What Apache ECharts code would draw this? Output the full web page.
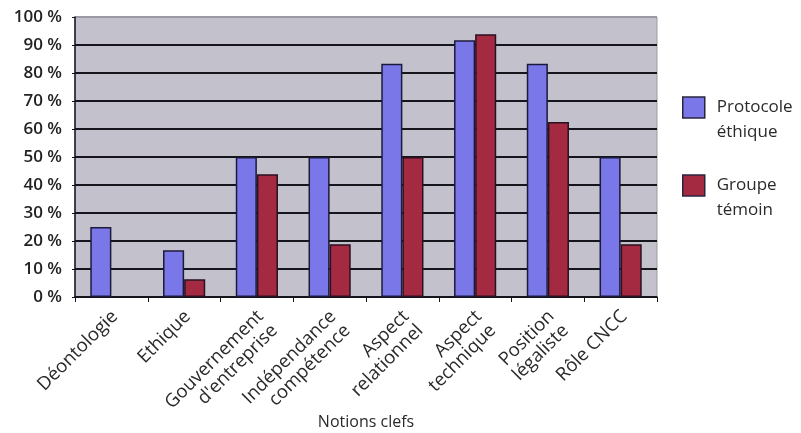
<!DOCTYPE html>
<html>
<head>
<meta charset="utf-8">
<script src="https://cdn.jsdelivr.net/npm/echarts@6/dist/echarts.min.js"></script>
<style>
  html, body { margin: 0; padding: 0; background: #fff; }
  #chart { width: 801px; height: 433px; }
</style>
</head>
<body>
<div id="chart"></div>
<script>
// Notions clefs, share of respondents citing each notion (%)
const categories = [
  'Déontologie',
  'Ethique',
  'Gouvernement\nd\'entreprise',
  'Indépendance\ncompétence',
  'Aspect\nrelationnel',
  'Aspect\ntechnique',
  'Position\nlégaliste',
  'Rôle CNCC'
];
const protocoleEthique = [25, 16.7, 50, 50, 83.3, 91.7, 83.3, 50];
const groupeTemoin = [0, 6.3, 43.8, 18.8, 50, 93.8, 62.5, 18.8];
const yTicks = [0, 10, 20, 30, 40, 50, 60, 70, 80, 90, 100];
const seriesNames = ['Protocole éthique', 'Groupe témoin'];

const FONT = '"Open Sans", sans-serif';
const chart = echarts.init(document.getElementById('chart'), null, { renderer: 'canvas' });

// one colour per gridline; the top one blends into the plot frame
const gridColors = yTicks.map((t, i) => (i === yTicks.length - 1 ? '#9a9aa4' : '#15151c'));

// zero-height bars get no outline
const toBarData = values => values.map(v => (v === 0 ? { value: v, itemStyle: { borderWidth: 0 } } : v));

chart.setOption({
  backgroundColor: '#ffffff',
  animation: false,
  grid: {
    left: 75, right: 144, top: 17, bottom: 136,
    outerBoundsMode: 'none',
    containLabel: false,
    show: true,
    backgroundColor: '#c3c2cc',
    borderColor: '#9a9aa4',
    borderWidth: 1
  },
  legend: {
    orient: 'vertical',
    left: 682,
    top: 70,
    padding: 0,
    itemWidth: 22,
    itemHeight: 21,
    itemGap: 3,
    icon: 'rect',
    data: seriesNames,
    // leading blank line keeps the swatch level with the first word
    formatter: name => '\n' + name.replace(' ', '\n'),
    textStyle: {
      fontFamily: FONT,
      fontSize: 17,
      color: '#2a2a2a',
      lineHeight: 25,
      padding: [0, 0, 0, 7]
    },
    itemStyle: { borderColor: '#2a2440', borderWidth: 1.5 }
  },
  xAxis: {
    type: 'category',
    data: categories,
    name: 'Notions clefs',
    nameLocation: 'middle',
    nameGap: 117,
    nameMoveOverlap: false,
    nameTextStyle: { fontFamily: FONT, fontSize: 16, color: '#2a2a2a' },
    axisLine: { lineStyle: { color: '#15151c', width: 1.5 } },
    axisTick: { show: true, length: 5, alignWithLabel: false, lineStyle: { color: '#15151c' } },
    axisLabel: {
      rotate: 45,
      interval: 0,
      margin: 6,
      align: 'right',
      verticalAlign: 'top',
      padding: [0, 5, 0, 0],
      fontFamily: FONT,
      fontSize: 18.5,
      lineHeight: 20,
      color: '#2a2a2a'
    }
  },
  yAxis: {
    type: 'value',
    min: 0,
    max: 100,
    interval: 10,
    axisLine: { show: true, lineStyle: { color: '#15151c', width: 1.5 } },
    axisTick: { show: true, length: 3, lineStyle: { color: '#15151c' } },
    axisLabel: {
      formatter: v => v + ' %',
      margin: 13,
      fontFamily: FONT,
      fontSize: 17,
      fontWeight: 600,
      color: '#222'
    },
    splitLine: { show: true, lineStyle: { color: gridColors, width: 2 } }
  },
  series: [
    {
      name: seriesNames[0],
      type: 'bar',
      data: toBarData(protocoleEthique),
      barGap: '0%',
      barCategoryGap: '42%',
      itemStyle: { color: '#7a78e8', borderColor: '#1c1a3c', borderWidth: 1.5 }
    },
    {
      name: seriesNames[1],
      type: 'bar',
      data: toBarData(groupeTemoin),
      barGap: '0%',
      barCategoryGap: '42%',
      itemStyle: { color: '#a42a42', borderColor: '#2a1020', borderWidth: 1.5 }
    }
  ]
});
</script>
</body>
</html>
